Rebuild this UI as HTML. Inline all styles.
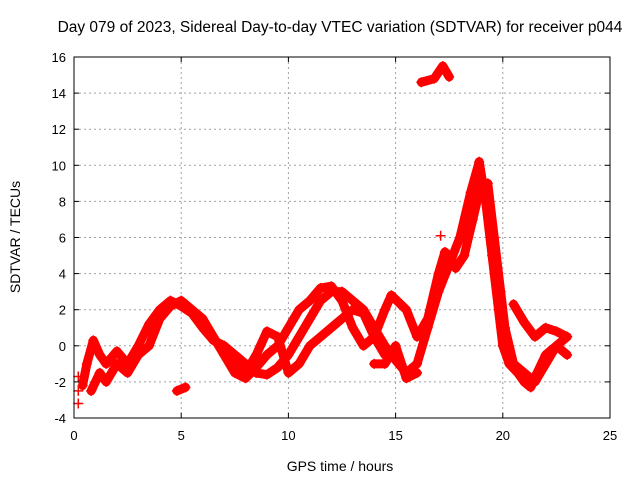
<!DOCTYPE html>
<html><head><meta charset="utf-8"><style>
body{margin:0;background:#fff;}
svg{font-family:"Liberation Sans",sans-serif;}
</style></head><body>
<svg id="chart" width="640" height="480">
<text x="340" y="32" text-anchor="middle" font-size="15.5">Day 079 of 2023, Sidereal Day-to-day VTEC variation (SDTVAR) for receiver p044</text>
<text x="340" y="471" text-anchor="middle" font-size="14">GPS time / hours</text>
<text transform="translate(20,237) rotate(-90)" text-anchor="middle" font-size="14">SDTVAR / TECUs</text>
<g id="grid"></g><g id="marks"></g>
<rect x="74" y="57" width="536" height="361" fill="none" stroke="#000"/>
<g id="ticks"></g>
</svg>
<script>
const xTicks=[0,5,10,15,20,25];
const yTicks=[-4,-2,0,2,4,6,8,10,12,14,16];
const track1=[[0.4,-2.2],[0.6,-1],[0.9,0.3],[1.2,-0.5],[1.5,-1],[2,-0.3],[2.5,-1],[3,0],[3.5,1.2],[4,2],[4.5,2.5],[5,2.2],[5.5,1.8],[6,1],[6.5,0.3],[7,0],[7.5,-0.5],[8,-1],[8.5,-1.5],[9,-1.6],[9.5,-1.2],[10,-0.5],[10.5,0.5],[11,1.5],[11.5,2.5],[12,3],[12.5,3],[13,2.5],[13.5,2],[14,1],[14.5,0],[15,-0.8],[15.5,-1.5],[16,-1],[16.5,1],[17,3],[17.5,4.5],[18,6],[18.5,8.5],[18.9,10.2],[19.2,8],[19.5,5],[19.8,2],[20,0],[20.3,-1],[20.7,-1.5],[21,-2],[21.3,-2.3],[21.6,-1.5],[22,-0.5],[22.5,0],[23,0.5]];
const track2=[[0.8,-2.5],[1.2,-1.5],[1.5,-2],[2,-1],[2.5,-1.5],[3,-0.5],[3.5,0],[4,1.5],[4.5,2.2],[5,2.5],[5.5,2],[6,1.5],[6.5,0.5],[7,-0.5],[7.5,-1.5],[8,-1.8],[8.5,-1.2],[9,-0.5],[9.5,0],[10,1],[10.5,2],[11,2.5],[11.5,3.2],[12,3.3],[12.5,2.5],[13,1],[13.5,0],[14,0.5],[14.5,2],[14.8,2.8],[15.5,2],[16,0.5],[16.5,1.5],[17,4],[17.3,5.2],[17.5,5],[17.8,4.3],[18.2,5],[18.6,7],[19,9],[19.3,9],[19.6,6],[19.9,3],[20.1,1],[20.5,-1],[21,-1.5],[21.5,-2],[22,-1],[22.5,0],[23,-0.5]];
const track3=[[7,0],[7.5,-1],[8,-1.5],[8.5,-0.5],[9,0.8],[9.5,0.5],[10,-1.5],[10.5,-1],[11,0],[11.5,0.5],[12,1],[12.5,1.5],[13,2],[13.5,1.8],[14,0.5],[14.5,-0.5]];
const track4=[[14,-1],[14.5,-1],[15,0],[15.5,-1.8],[16,-1.5]];
const track5=[[20.5,2.3],[21,1.3],[21.5,0.5],[22,1],[22.5,0.8],[23,0.5]];
const track6=[[16.2,14.6],[16.8,14.8],[17.2,15.5],[17.5,14.9]];
const track7=[[4.8,-2.5],[5.2,-2.3]];
const isolated=[[0.2,-1.7],[0.2,-2.5],[0.2,-3.2],[17.1,6.1]];
const tracks=[track1,track2,track3,track4,track5,track6,track7];
const X0=74,X1=610,Y0=418,Y1=57;
const sx=h=>X0+(h-0)/(25-0)*(X1-X0);
const sy=v=>Y0-(v+4)/(16+4)*(Y0-Y1);
const NS="http://www.w3.org/2000/svg";
const grid=document.getElementById('grid'),ticks=document.getElementById('ticks'),marks=document.getElementById('marks');
function mk(tag,attrs,parent){const e=document.createElementNS(NS,tag);for(const k in attrs)e.setAttribute(k,attrs[k]);parent.appendChild(e);return e;}
xTicks.forEach(t=>{const x=sx(t);
 if(t>0&&t<25){const g=mk('line',{x1:x,x2:x,y1:Y1,y2:Y0,stroke:'#a0a0a0','stroke-dasharray':'2,3'},grid);
 
 }
 const tl=mk('text',{x:x,y:Y0+22,'text-anchor':'middle','font-size':13},ticks);tl.textContent=t;
 
 
 mk('line',{x1:x,x2:x,y1:Y0,y2:Y0-5,stroke:'#000'},ticks);mk('line',{x1:x,x2:x,y1:Y1,y2:Y1+5,stroke:'#000'},ticks);});
yTicks.forEach(t=>{const y=sy(t);
 if(t>-4&&t<16){const g=mk('line',{x1:X0,x2:X1,y1:y,y2:y,stroke:'#a0a0a0','stroke-dasharray':'2,3'},grid);
 
 }
 const tl=mk('text',{x:X0-8,y:y+5,'text-anchor':'end','font-size':13},ticks);tl.textContent=t;
 
 
 mk('line',{x1:X0,x2:X0+5,y1:y,y2:y,stroke:'#000'},ticks);mk('line',{x1:X1,x2:X1-5,y1:y,y2:y,stroke:'#000'},ticks);});
function plus(h,v,name){const x=sx(h),y=sy(v);
 const p=mk('path',{d:`M${x-5},${y}H${x+5}M${x},${y-5}V${y+5}`,stroke:'#f00','stroke-width':1.5},marks);
 
 }
tracks.forEach((tr,i)=>{
 const pl=mk('polyline',{points:tr.map(p=>sx(p[0])+','+sy(p[1])).join(' '),fill:'none',stroke:'#f00','stroke-width':9,'stroke-linejoin':'round','stroke-linecap':'round'},marks);
 
 
 tr.forEach(p=>plus(p[0],p[1],'sdtvar-point'));});
isolated.forEach(p=>plus(p[0],p[1],'sdtvar-isolated-point'));
</script>
</body></html>
